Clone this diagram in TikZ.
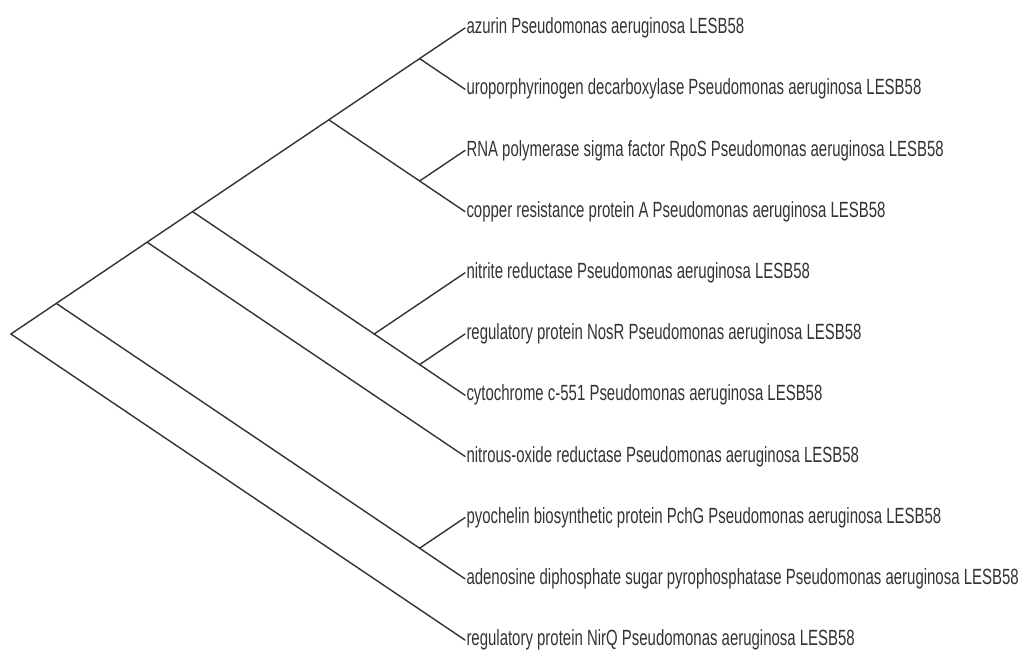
\documentclass[tikz,border=0pt]{standalone}
\usepackage{fontspec}
\setmainfont{Liberation Sans}
\usepackage{tikz}
\usetikzlibrary{positioning,calc}
\tikzset{
  branch/.style={line width=1.4pt,draw=black!80,line cap=round},
  leaf/.style={anchor=west,inner sep=2pt,xscale=0.68,text=black!80,
    font=\fontsize{22}{25}\selectfont}
}

\begin{document}
\begin{tikzpicture}[x=1pt,y=-1pt]
\useasboundingbox (0,0) rectangle (1022,654);
% leaves
\foreach \lab [count=\i from 0] in {azurin Pseudomonas aeruginosa LESB58,
  uroporphyrinogen decarboxylase Pseudomonas aeruginosa LESB58,
  RNA polymerase sigma factor RpoS Pseudomonas aeruginosa LESB58,
  copper resistance protein A Pseudomonas aeruginosa LESB58,
  nitrite reductase Pseudomonas aeruginosa LESB58,
  regulatory protein NosR Pseudomonas aeruginosa LESB58,
  cytochrome c-551 Pseudomonas aeruginosa LESB58,
  nitrous-oxide reductase Pseudomonas aeruginosa LESB58,
  pyochelin biosynthetic protein PchG Pseudomonas aeruginosa LESB58,
  adenosine diphosphate sugar pyrophosphatase Pseudomonas aeruginosa LESB58,
  regulatory protein NirQ Pseudomonas aeruginosa LESB58}
  \node[leaf] (l\i) at (465,{28+61.2*\i}) {\lab};
% inner nodes
\coordinate (root) at (10.9,334);
\coordinate (n09) at (56.3,303.4);
\coordinate (n07) at (147.1,242.2);
\coordinate (n06) at (192.5,211.6);
\coordinate (n03) at (328.8,119.8);
\coordinate (n01) at (419.6,58.6);
\coordinate (n23) at (419.6,181);
\coordinate (n46) at (374.2,334);
\coordinate (n56) at (419.6,364.6);
\coordinate (n89) at (419.6,548.2);
% branches
\draw[branch] (root) -- (n09);
\draw[branch] (root) -- (l10.west);
\draw[branch] (n09) -- (n07);
\draw[branch] (n09) -- (n89);
\draw[branch] (n89) -- (l8.west);
\draw[branch] (n89) -- (l9.west);
\draw[branch] (n07) -- (n06);
\draw[branch] (n07) -- (l7.west);
\draw[branch] (n06) -- (n03);
\draw[branch] (n06) -- (n46);
\draw[branch] (n46) -- (l4.west);
\draw[branch] (n46) -- (n56);
\draw[branch] (n56) -- (l5.west);
\draw[branch] (n56) -- (l6.west);
\draw[branch] (n03) -- (n01);
\draw[branch] (n03) -- (n23);
\draw[branch] (n01) -- (l0.west);
\draw[branch] (n01) -- (l1.west);
\draw[branch] (n23) -- (l2.west);
\draw[branch] (n23) -- (l3.west);
\end{tikzpicture}
\end{document}
